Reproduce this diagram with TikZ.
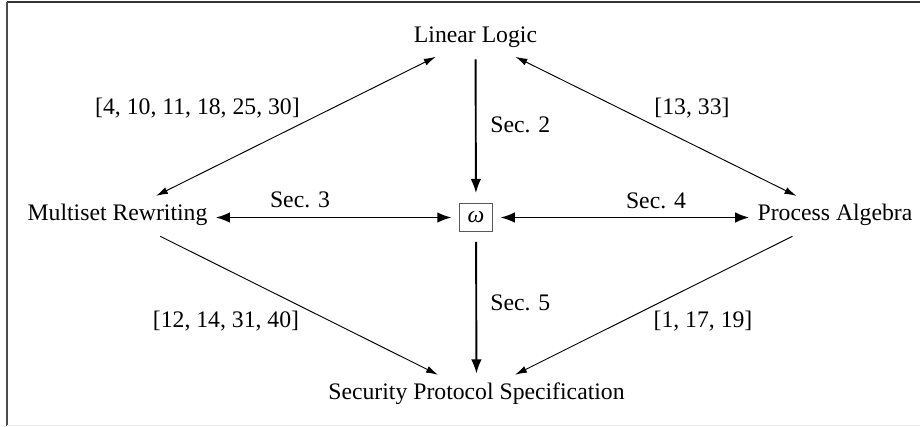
\documentclass[tikz,border=0pt]{standalone}
\usepackage{fontspec}
\setmainfont{Liberation Serif}
\usetikzlibrary{arrows.meta}
\begin{document}
\begin{tikzpicture}[x=0.4219pt,y=-0.4219pt,
  lbl/.style={font=\fontsize{10}{12}\selectfont},
  box/.style={font=\fontsize{10}{12}\selectfont, inner sep=3.33pt},
  omegabox/.style={draw=black!65, line width=0.4pt, minimum width=14.3pt, minimum height=12.2pt, inner sep=1pt, font=\fontsize{10}{12}\selectfont},
  thickarrow/.style={line width=0.8pt, {Latex[length=6pt,width=4.5pt]}-{Latex[length=6pt,width=4.5pt]}},
  thickone/.style={line width=0.8pt, -{Latex[length=6pt,width=4.5pt]}},
  thinboth/.style={line width=0.4pt, {Latex[length=5pt,width=3pt]}-{Latex[length=5pt,width=3pt]}},
  thinone/.style={line width=0.4pt, -{Latex[length=5pt,width=3pt]}}]
\useasboundingbox (0,0) rectangle (920,426);
% frame (cropped)
\draw[line width=0.5pt, black!80] (7,2) -- (920,2);
\draw[line width=0.6pt, black!70] (7,2) -- (7,426);
\draw[line width=0.4pt, black!8] (7,425) -- (920,425);

\node[box] (ll) at (475.5,37) {Linear Logic};
\node[box] (ms) at (117.5,215) {Multiset Rewriting};
\node[box] (pa) at (835,215) {Process Algebra};
\node[box] (sp) at (476.5,394) {Security Protocol Specification};
\node[omegabox] (om) at (476,217.5) {\itshape ω};

% thick arrows
\draw[thickone, shorten <=1.5pt, shorten >=4pt] (ll) -- (om);
\draw[thickone, shorten <=4pt, shorten >=0.5pt] (om) -- (sp);
\draw[thickarrow, shorten <=0pt, shorten >=3pt] (ms.east |- om) -- (om);
\draw[thickarrow, shorten <=3pt, shorten >=0pt] (om) -- (pa.west |- om);

% thin arrows
\draw[thinboth, shorten >=1pt] (ms) -- (ll);
\draw[thinboth, shorten <=1pt] (ll) -- (pa);
\draw[thinone, shorten <=2pt] (ms) -- (sp);
\draw[thinone, shorten <=2pt] (pa) -- (sp);

% labels
\node[lbl, anchor=west] (s2) at (482,125) {Sec. 2};
\node[lbl, anchor=west] (s5) at (482,303) {Sec. 5};
\node[lbl] (s3) at (300,200) {Sec. 3};
\node[lbl] (s4) at (656,201) {Sec. 4};
\node[lbl] (r1) at (197.5,108) {[4, 10, 11, 18, 25, 30]};
\node[lbl] (r2) at (692,108) {[13, 33]};
\node[lbl] (r3) at (226,321) {[12, 14, 31, 40]};
\node[lbl] (r4) at (703,321) {[1, 17, 19]};
\end{tikzpicture}
\end{document}
